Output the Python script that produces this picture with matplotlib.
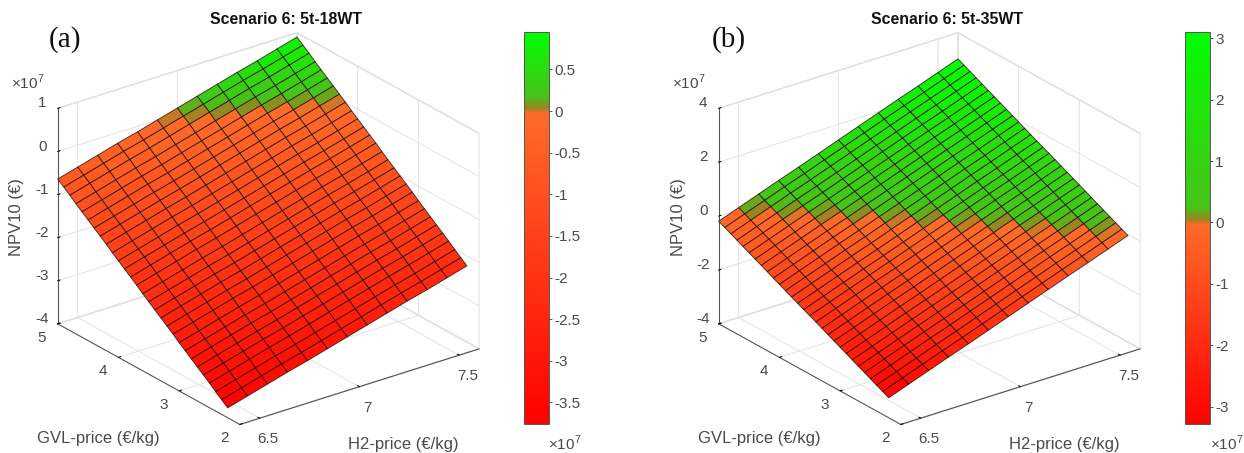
import matplotlib
matplotlib.use('Agg')
import matplotlib.pyplot as plt
import numpy as np
from matplotlib import cm
from matplotlib.colors import LinearSegmentedColormap, Normalize

plt.rcParams['font.family'] = ['Liberation Sans', 'DejaVu Sans']
plt.rcParams['mathtext.fontset'] = 'custom'
plt.rcParams['mathtext.rm'] = 'Liberation Sans'

W, H = 1244, 453
TEXT = '#4a4a4a'

# grid of the two price sweeps
h2_price = [6.4, 6.5, 6.6, 6.7, 6.8, 6.9, 7.0, 7.1, 7.2, 7.3, 7.4, 7.5, 7.6]
gvl_price = [2.2, 2.3, 2.4, 2.5, 2.6, 2.7, 2.8, 2.9, 3.0, 3.1, 3.2, 3.3, 3.4, 3.5, 3.6,
             3.7, 3.8, 3.9, 4.0, 4.1, 4.2, 4.3, 4.4, 4.5, 4.6, 4.7, 4.8, 4.9, 5.0]

# NPV10 (x 1e7) read along the H2 = 6.4 edge, then the gain along the H2 direction
npv_18wt_edge = [-3.77, -3.66, -3.55, -3.43, -3.32, -3.21, -3.10, -2.99, -2.88, -2.76,
                 -2.65, -2.54, -2.43, -2.32, -2.21, -2.09, -1.98, -1.87, -1.76, -1.65,
                 -1.53, -1.42, -1.31, -1.20, -1.09, -0.98, -0.86, -0.75, -0.64]
h2_gain_18wt = [0, 0.13, 0.26, 0.39, 0.51, 0.64, 0.77, 0.90, 1.03, 1.16, 1.28, 1.41, 1.54]

npv_35wt_edge = [-3.26, -3.15, -3.04, -2.93, -2.82, -2.71, -2.60, -2.49, -2.38, -2.27,
                 -2.16, -2.05, -1.94, -1.83, -1.73, -1.62, -1.51, -1.40, -1.29, -1.18,
                 -1.07, -0.96, -0.85, -0.74, -0.63, -0.52, -0.41, -0.30, -0.19]
h2_gain_35wt = [0, 0.27, 0.54, 0.81, 1.07, 1.34, 1.61, 1.88, 2.15, 2.42, 2.68, 2.95, 3.22]

h2_ticks = [6.5, 7, 7.5]
gvl_ticks = [2, 3, 4, 5]
z_ticks_18wt = [-4, -3, -2, -1, 0, 1]
z_ticks_35wt = [-4, -2, 0, 2, 4]
cbar_ticks_18wt = [-3.5, -3, -2.5, -2, -1.5, -1, -0.5, 0, 0.5]
cbar_ticks_35wt = [-3, -2, -1, 0, 1, 2, 3]


def fmt(v):
    return '%g' % v


def red_green(vmin, vmax):
    t0 = (0 - vmin) / (vmax - vmin)
    nodes = [(0, (1, 0, 0)),
             (t0 - 0.006, (1, 0.42, 0.16)),
             (t0 + 0.008, (0.6, 0.52, 0.13)),
             (t0 + 0.038, (0.28, 0.76, 0.1)),
             (1, (0, 1, 0))]
    return LinearSegmentedColormap.from_list('rg', nodes, N=512)


def place(left, top, width, height):
    return [left / W, 1 - (top + height) / H, width / W, height / H]


def panel(fig, dx, title, tag, tag_x, title_x, edge, gain, zlim, zticks, clim, cticks, cbar_x, cx10_x):
    ax = fig.add_axes(place(25.5 + dx, -1.5, 473, 473), projection='3d', proj_type='ortho')
    ax.patch.set_alpha(0)
    cmap = red_green(*clim)
    norm = Normalize(*clim)

    X, Y = np.meshgrid(h2_price, gvl_price)
    Z = np.add.outer(np.array(edge), np.array(gain))
    ax.plot_surface(X, Y, Z, rstride=1, cstride=1, cmap=cmap, norm=norm, shade=False,
                    edgecolor=(0.1, 0.05, 0.02, 0.8), linewidth=0.65, antialiased=True)

    ax.set_box_aspect((301, 303, 238))
    ax.view_init(elev=24.7, azim=-127.1)
    ax.set_xlim(6.4, 7.6, view_margin=0)
    ax.set_ylim(2, 5, view_margin=0)
    ax.set_zlim(zlim[0], zlim[1], view_margin=0)
    ax.set_xticks(h2_ticks)
    ax.set_yticks(gvl_ticks)
    ax.set_zticks(zticks)
    ax.set_xticklabels([fmt(v) for v in h2_ticks], fontsize=11, color=TEXT)
    ax.set_yticklabels([fmt(v) for v in gvl_ticks], fontsize=11, color=TEXT, ha='right', va='center')
    ax.set_zticklabels([fmt(v) for v in zticks], fontsize=11, color=TEXT, va='baseline')
    ax.tick_params(axis='x', pad=0)
    ax.tick_params(axis='y', pad=0.5)
    ax.tick_params(axis='z', pad=-1.5)
    for axis in (ax.xaxis, ax.yaxis, ax.zaxis):
        axis.set_pane_color((1, 1, 1, 1))
        axis.pane.set_edgecolor('#dcdcdc')
        axis.line.set_color('#555555')
        axis.line.set_linewidth(0.8)
        axis._axinfo['grid'].update(color='#e2e2e2', linewidth=0.7)
        axis._axinfo['tick'].update(color='#555555', linewidth={True: 0.7, False: 0.5},
                                    inward_factor=0.0, outward_factor=0.12)

    # axis names sit flat in the reference, so they go on as plain figure text
    fig.text((98 + dx) / W, 1 - 438 / H, 'GVL-price (€/kg)', fontsize=12, color=TEXT, ha='center', va='center')
    fig.text((403 + dx) / W, 1 - 444 / H, 'H2-price (€/kg)', fontsize=12, color=TEXT, ha='center', va='center')
    fig.text((17 + dx) / W, 1 - 217 / H, 'NPV10 (€)', fontsize=12, color=TEXT, ha='center', va='center', rotation=90)
    fig.text((28 + dx) / W, 1 - 82 / H, r'$\times10^{7}$', fontsize=11, color=TEXT, ha='center', va='center')

    fig.text(title_x / W, 1 - 19 / H, title, fontsize=11.4, fontweight='bold', color='#111111', ha='center', va='center')
    fig.text(tag_x / W, 1 - 40 / H, tag, fontsize=21, family='Liberation Serif', color='#111111', ha='center', va='center')

    cax = fig.add_axes(place(cbar_x, 32, 24.5, 392))
    cb = fig.colorbar(cm.ScalarMappable(norm=norm, cmap=cmap), cax=cax)
    cb.set_ticks(cticks)
    cb.set_ticklabels([fmt(v) for v in cticks])
    cb.ax.tick_params(labelsize=11, labelcolor=TEXT, color='#555555', length=2.5, width=0.7, pad=1.5, direction='out')
    cb.outline.set_edgecolor('#555555')
    cb.outline.set_linewidth(0.7)
    fig.text(cx10_x / W, 1 - 443 / H, r'$\times10^{7}$', fontsize=11, color=TEXT, ha='center', va='center')


fig = plt.figure(figsize=(W / 100, H / 100), dpi=100)
panel(fig, 0, 'Scenario 6: 5t-18WT', '(a)', 65, 286, npv_18wt_edge, h2_gain_18wt, (-4, 1),
      z_ticks_18wt, (-3.76, 0.95), cbar_ticks_18wt, 524, 565)
panel(fig, 661, 'Scenario 6: 5t-35WT', '(b)', 729, 947, npv_35wt_edge, h2_gain_35wt, (-4, 4),
      z_ticks_35wt, (-3.28, 3.1), cbar_ticks_35wt, 1185, 1227)
fig.savefig('out.png', dpi=100)
